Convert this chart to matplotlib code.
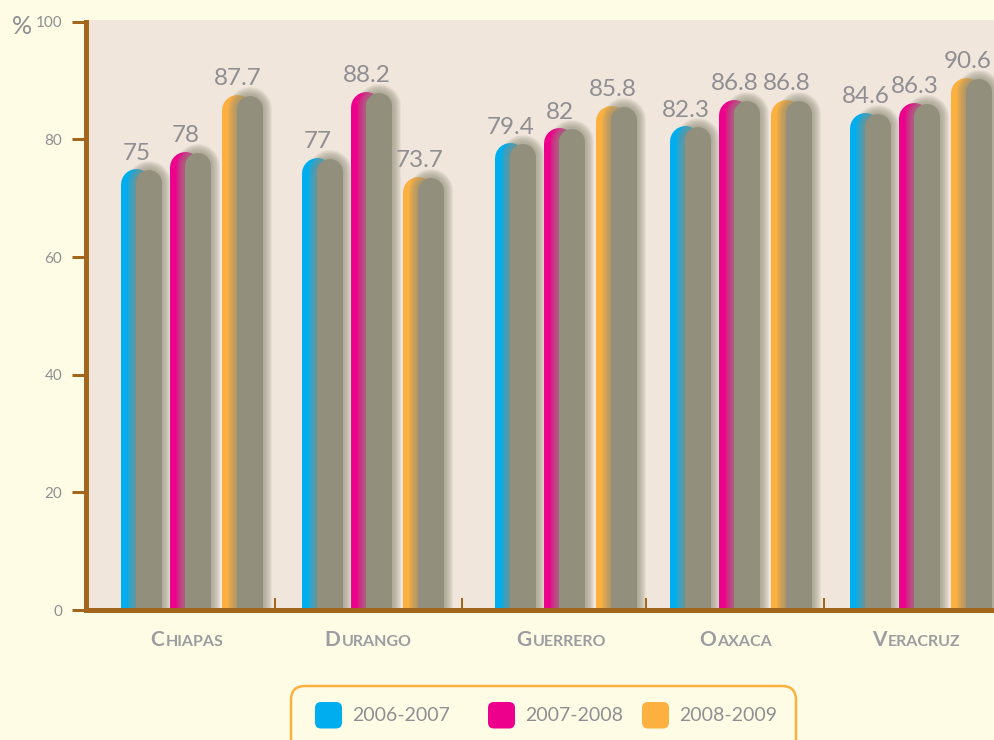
import matplotlib
matplotlib.use('Agg')
import matplotlib.pyplot as plt
from matplotlib.patches import FancyBboxPatch
from matplotlib.transforms import blended_transform_factory, offset_copy

# data
states = ['Chiapas', 'Durango', 'Guerrero', 'Oaxaca', 'Veracruz']
periods = ['2006-2007', '2007-2008', '2008-2009']
v_0607 = [75, 77, 79.4, 82.3, 84.6]
v_0708 = [78, 88.2, 82, 86.8, 86.3]
v_0809 = [87.7, 73.7, 85.8, 86.8, 90.6]
series = [v_0607, v_0708, v_0809]
y_ticks = [0, 20, 40, 60, 80, 100]

# look
colors = ['#00AEEF', '#EC008C', '#FBB040']
BG = '#FFFCE6'
PLOT_BG = '#F1E6DC'
BROWN = '#A2661C'
SHADOW = '#938F7D'
TXT = '#8F8F93'
CAT = '#9C9CA1'
FONT = 'Lato'
DPI = 100

plt.rcParams['font.family'] = [FONT, 'DejaVu Sans']


def pt(px):
    # pixels -> points
    return px * 72 / DPI


fig = plt.figure(figsize=(9.95, 7.4), dpi=DPI, facecolor=BG)
ax = fig.add_axes([86 / 995, 130 / 740, 909 / 995, 590 / 740])
ax.set_facecolor(PLOT_BG)

group_px = 183
ax.set_xlim(-106 / group_px, (909 - 106) / group_px)
ax.set_ylim(0, 100.3)
px_x = 909 / (ax.get_xlim()[1] - ax.get_xlim()[0])
px_y = 590 / (ax.get_ylim()[1] - ax.get_ylim()[0])

# group centres (the original spacing is a little uneven)
group_pos = [0, 0.99, 2.045, 3.0, 3.985]
offsets = [-0.27, 0.0, 0.285]
for j, vals in enumerate(series):
    for i, v in enumerate(vals):
        cx = group_pos[i] + offsets[j]
        # coloured bar with round top
        w = 31
        xc = cx - 7 / px_x
        r = (w / 2) / px_y
        ax.plot([xc, xc], [-r, v - r], lw=pt(w), color=colors[j],
                solid_capstyle='round', zorder=2)
        # soft grey shadow body
        xg = cx + 6 / px_x
        wg = 26
        top = v - 1.5 / px_y - (wg / 2) / px_y
        for wb in range(44, wg, -2):
            ax.plot([xg, xg], [-10, top], lw=pt(wb), color=SHADOW, alpha=0.11,
                    solid_capstyle='round', zorder=2.1)
        ax.plot([xg, xg], [-10, top], lw=pt(wg), color=SHADOW,
                solid_capstyle='round', zorder=2.2)
        ax.text(cx - 6 / px_x, v + 9 / px_y, '{:g}'.format(v), ha='center',
                va='baseline', fontsize=17.5, color=TXT, zorder=3)

for s in ['top', 'right']:
    ax.spines[s].set_visible(False)
for s in ['left', 'bottom']:
    ax.spines[s].set_color(BROWN)
    ax.spines[s].set_linewidth(pt(5))
    ax.spines[s].set_zorder(4)
ax.spines['left'].set_bounds(0, 100)

ax.set_yticks(y_ticks)
ax.tick_params(axis='y', length=pt(14), width=pt(3), color=BROWN, pad=7,
               labelsize=11, labelcolor=TXT)

ax.set_xticks(group_pos)
ax.set_xticklabels([])
ax.tick_params(axis='x', which='major', length=0)
ax.set_xticks([(group_pos[i] + group_pos[i + 1]) / 2 - 0.04
               for i in range(len(states) - 1)], minor=True)
ax.tick_params(axis='x', which='minor', direction='in', length=pt(12),
               width=pt(2), color=BROWN)

fig.text(12 / 995, 1 - 27 / 740, '%', fontsize=18, color=TXT, va='center')

# small-caps category labels
fig.canvas.draw()
renderer = fig.canvas.get_renderer()
base = blended_transform_factory(ax.transData, fig.transFigure)
y_cat = 1 - 646 / 740
for i, name in enumerate(states):
    t1 = ax.text(group_pos[i], y_cat, name[0].upper(), transform=base, fontsize=15,
                 fontweight='bold', color=CAT, ha='left', va='baseline')
    t2 = ax.text(group_pos[i], y_cat, name[1:].upper(), transform=base, fontsize=11.5,
                 fontweight='bold', color=CAT, ha='left', va='baseline')
    w1 = t1.get_window_extent(renderer).width
    w2 = t2.get_window_extent(renderer).width
    start = -(w1 + w2 + 1) / 2 - 5
    t1.set_transform(offset_copy(base, fig=fig, x=start, y=0, units='dots'))
    t2.set_transform(offset_copy(base, fig=fig, x=start + w1 + 1, y=0, units='dots'))

# legend box (bottom edge runs off the figure)
inch = fig.dpi_scale_trans
fig.patches.append(FancyBboxPatch((2.91, -0.3), 5.05, 0.84,
                                  boxstyle='round,pad=0,rounding_size=0.14',
                                  transform=inch, facecolor=BG,
                                  edgecolor=colors[2], lw=pt(2.5)))
legend_x = [3.15, 4.88, 6.42]
for lx, lab, c in zip(legend_x, periods, colors):
    fig.patches.append(FancyBboxPatch((lx, 0.115), 0.27, 0.265,
                                      boxstyle='round,pad=0,rounding_size=0.06',
                                      transform=inch, facecolor=c, edgecolor='none'))
    fig.text(lx + 0.37, 0.245, lab, transform=inch, fontsize=14, color=TXT,
             va='center', ha='left')

fig.savefig('out.png', dpi=DPI, facecolor=BG)
